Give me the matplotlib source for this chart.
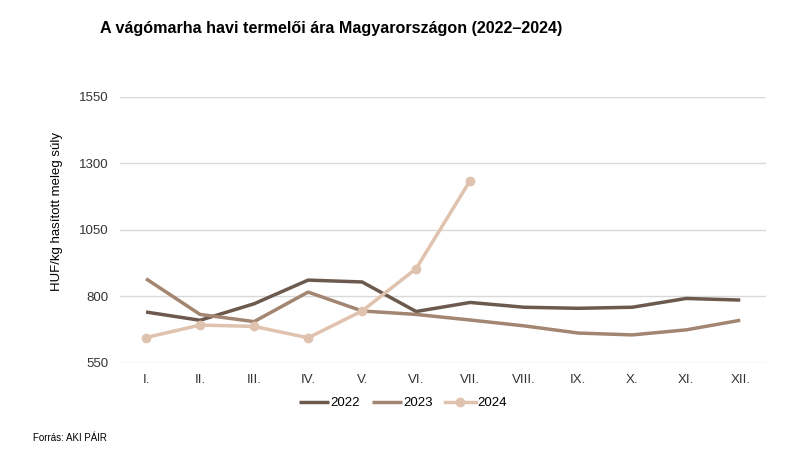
import matplotlib
matplotlib.use('Agg')
import matplotlib.pyplot as plt

plt.rcParams['font.family'] = ['Liberation Sans', 'DejaVu Sans']

months = ['I.', 'II.', 'III.', 'IV.', 'V.', 'VI.', 'VII.', 'VIII.', 'IX.', 'X.', 'XI.', 'XII.']
y2022 = [741, 710, 772, 861, 854, 743, 777, 759, 755, 759, 792, 786]
y2023 = [866, 732, 705, 816, 745, 732, 711, 689, 662, 655, 674, 710]
y2024 = [645, 692, 687, 644, 745, 904, 1235]
yticks = [550, 800, 1050, 1300, 1550]

fig = plt.figure(figsize=(7.85, 4.70), dpi=100)
ax = fig.add_axes([0.153, 0.228, 0.823, 0.566])

x = list(range(len(months)))
ax.plot(x, y2022, color='#6b5a4d', lw=2.5, label='2022', solid_capstyle='butt')
ax.plot(x, y2023, color='#a28672', lw=2.5, label='2023', solid_capstyle='butt')
ax.plot(x[:len(y2024)], y2024, color='#dfc3ae', lw=2.5, marker='o', ms=6, label='2024')

ax.set_ylim(550, 1550)
ax.set_yticks(yticks)
ax.set_xlim(-0.48, 11.48)
ax.set_xticks(x)
ax.set_xticklabels(months)
ax.grid(axis='y', color='#d9d9d9', lw=1)
ax.set_axisbelow(True)
for s in ['top', 'right', 'left', 'bottom']:
    ax.spines[s].set_visible(False)
ax.tick_params(length=0, labelsize=9.5, colors='#333333')
ax.tick_params(axis='x', pad=8)
ax.tick_params(axis='y', pad=8)

fig.text(0.073, 0.551, 'HUF/kg hasított meleg súly', fontsize=9.5, rotation=90,
         ha='center', va='center')

fig.legend(*ax.get_legend_handles_labels(), loc='center', bbox_to_anchor=(0.513, 0.142),
           ncol=3, frameon=False, fontsize=9.5, handlelength=2.3, columnspacing=0.9,
           handletextpad=0.1)

fig.text(0.127, 0.94, 'A vágómarha havi termelői ára Magyarországon (2022–2024)',
         fontsize=11.6, fontweight='bold', va='center')
fig.text(0.042, 0.068, 'Forrás: AKI PÁIR', fontsize=7, va='center')

fig.savefig('out.png', dpi=100)
